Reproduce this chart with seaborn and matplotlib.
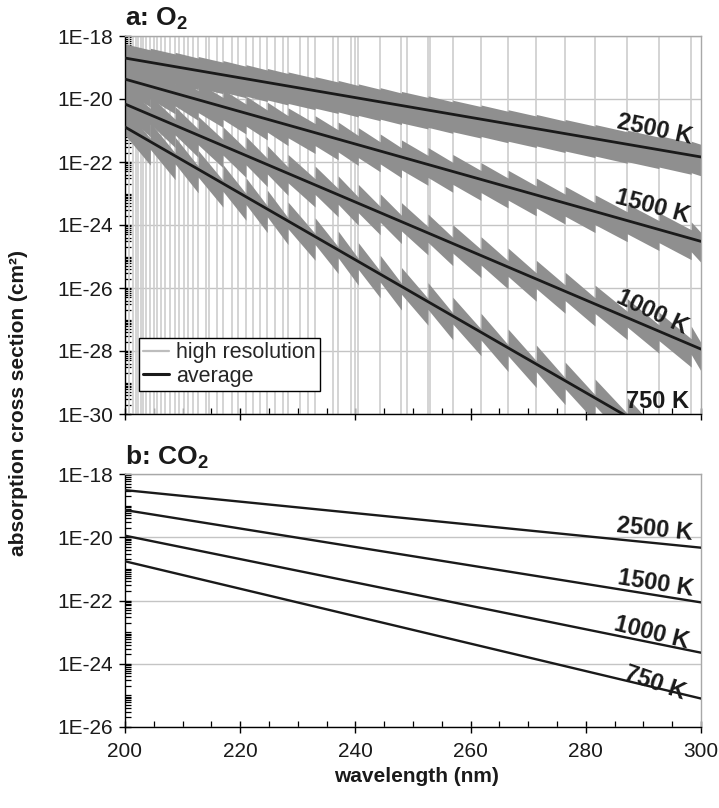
import numpy as np
import pandas as pd
import matplotlib
matplotlib.use("Agg")
import matplotlib.pyplot as plt
import seaborn as sns
from matplotlib.ticker import FixedLocator, LogLocator, MultipleLocator, FuncFormatter, NullFormatter
from matplotlib.lines import Line2D

# ---------------- data ----------------
temps = ["2500 K", "1500 K", "1000 K", "750 K"]
wl_ends = [200, 300]

# log10 of the averaged cross section at 200 nm and 300 nm, panel a (O2)
o2_avg_2500 = [-18.70, -21.84]
o2_avg_1500 = [-19.37, -24.52]
o2_avg_1000 = [-20.16, -27.94]
o2_avg_750 = [-20.89, -31.43]

# log10 of the CO2 cross section at 200 nm and 300 nm, panel b
co2_2500 = [-18.51, -20.33]
co2_1500 = [-19.14, -22.06]
co2_1000 = [-19.95, -23.65]
co2_750 = [-20.76, -25.10]

# wavelengths of the band heads (gaps in the high-resolution O2 data, drawn full height)
band_heads = [200.7, 201.4, 201.9, 202.3, 202.8, 203.2, 203.7, 204.4, 205.0, 205.6,
              206.3, 206.9, 207.8, 208.7, 209.4, 210.2, 210.9, 211.8, 212.7, 214.1,
              214.6, 215.9, 217.0, 218.5, 219.6, 221.0, 222.2, 223.4, 224.7, 226.0,
              227.4, 228.3, 230.4, 231.8, 233.0, 236.1, 237.0, 239.2, 239.9, 240.5,
              244.3, 248.0, 248.9, 252.6, 253.0, 256.9, 261.8, 266.5, 271.4, 276.4,
              281.6, 287.2, 292.7, 298.3]

# high-resolution O2 spectrum envelope, band by band (log10):
# top = upper edge at start of band, bot = lower edge at end of band
hr_bounds = [200, 204.4, 208.7, 212.7, 217.0, 221.0, 224.7, 228.3, 233.0, 237.0, 240.5, 244.3,
             248.0, 252.6, 256.9, 261.8, 266.5, 271.4, 276.4, 281.6, 287.2, 292.7, 298.3, 300]
hr_top_2500 = [-18.25, -18.39, -18.52, -18.65, -18.78, -18.91, -19.03, -19.14, -19.29, -19.41, -19.52, -19.64,
               -19.76, -19.90, -20.04, -20.19, -20.34, -20.49, -20.65, -20.81, -20.99, -21.16, -21.34]
hr_bot_2500 = [-19.44, -19.57, -19.70, -19.83, -19.96, -20.08, -20.19, -20.34, -20.46, -20.57, -20.69, -20.81,
               -20.95, -21.09, -21.24, -21.39, -21.54, -21.70, -21.86, -22.04, -22.21, -22.39, -22.44]
hr_top_1500 = [-18.82, -19.05, -19.27, -19.48, -19.70, -19.91, -20.10, -20.28, -20.53, -20.73, -20.91, -21.11,
               -21.30, -21.54, -21.76, -22.02, -22.26, -22.51, -22.77, -23.04, -23.33, -23.61, -23.90]
hr_bot_1500 = [-20.25, -20.47, -20.68, -20.90, -21.11, -21.30, -21.48, -21.73, -21.93, -22.11, -22.31, -22.50,
               -22.74, -22.96, -23.22, -23.46, -23.71, -23.97, -24.24, -24.53, -24.81, -25.10, -25.19]
hr_top_1000 = [-19.56, -19.90, -20.24, -20.55, -20.88, -21.19, -21.48, -21.76, -22.13, -22.44, -22.71, -23.01,
               -23.29, -23.65, -23.99, -24.37, -24.73, -25.12, -25.50, -25.91, -26.34, -26.77, -27.21]
hr_bot_1000 = [-21.20, -21.54, -21.85, -22.18, -22.49, -22.78, -23.06, -23.43, -23.74, -24.01, -24.31, -24.59,
               -24.95, -25.29, -25.67, -26.03, -26.42, -26.80, -27.21, -27.64, -28.07, -28.51, -28.64]
hr_top_750 = [-20.29, -20.75, -21.21, -21.63, -22.08, -22.50, -22.89, -23.27, -23.77, -24.19, -24.56, -24.96,
              -25.35, -25.83, -26.29, -26.80, -27.30, -27.81, -28.35, -28.89, -29.48, -30.06, -30.65]
hr_bot_750 = [-22.10, -22.56, -22.98, -23.43, -23.85, -24.24, -24.62, -25.12, -25.54, -25.91, -26.31, -26.70,
              -27.18, -27.64, -28.15, -28.65, -29.16, -29.70, -30.24, -30.83, -31.41, -32.00, -32.18]
hr_thick = [1.00, 0.95, 0.90, 0.85]  # band thickness in decades

o2_yticks_exp = [-30, -28, -26, -24, -22, -20, -18]
co2_yticks_exp = [-26, -24, -22, -20, -18]
xticks = [200, 220, 240, 260, 280, 300]

# ---------------- style ----------------
sns.set_theme(style="white")
plt.rcParams['font.family'] = ['Liberation Sans', 'DejaVu Sans']
plt.rcParams['mathtext.fontset'] = 'custom'
plt.rcParams['mathtext.rm'] = 'Liberation Sans'
plt.rcParams['mathtext.bf'] = 'Liberation Sans:bold'

HR_COLOR = '#8f8f8f'
GAP_COLOR = '#cdcdcd'
GRID_COLOR = '#c4c4c4'
FRAME_COLOR = '#a8a8a8'
INK = '#1a1a1a'

fig = plt.figure(figsize=(7.19, 8.08), dpi=100)
ax_a = fig.add_axes([125/719, 1-414/808, 576/719, 378/808])
ax_b = fig.add_axes([125/719, 1-727/808, 576/719, 253/808])

def long_df(series):
    rows = []
    for t, vals in zip(temps, series):
        for w, v in zip(wl_ends, vals):
            rows.append({"wavelength": w, "sigma": 10.0 ** v, "T": t})
    return pd.DataFrame(rows)

df_o2 = long_df([o2_avg_2500, o2_avg_1500, o2_avg_1000, o2_avg_750])
df_co2 = long_df([co2_2500, co2_1500, co2_1000, co2_750])

# ---- panel a ----
ax = ax_a
ax.set_yscale('log')
ax.vlines(band_heads, 10.0 ** o2_yticks_exp[0], 10.0 ** o2_yticks_exp[-1],
          color=GAP_COLOR, lw=1.2, zorder=1)
tops = [hr_top_2500, hr_top_1500, hr_top_1000, hr_top_750]
bots = [hr_bot_2500, hr_bot_1500, hr_bot_1000, hr_bot_750]
for tp, bt, th in zip(tops, bots, hr_thick):
    xs, up, lo = [], [], []
    for i in range(len(tp)):
        xs += [hr_bounds[i], hr_bounds[i + 1]]
        up += [10.0 ** tp[i], 10.0 ** (bt[i] + th)]
        lo += [10.0 ** (tp[i] - th), 10.0 ** bt[i]]
    ax.fill_between(xs, lo, up, color=HR_COLOR, lw=0, zorder=2)
sns.lineplot(data=df_o2, x="wavelength", y="sigma", hue="T", palette=[INK] * 4,
             estimator=None, legend=False, lw=2.0, ax=ax, zorder=3)

# ---- panel b ----
ax = ax_b
ax.set_yscale('log')
sns.lineplot(data=df_co2, x="wavelength", y="sigma", hue="T", palette=[INK] * 4,
             estimator=None, legend=False, lw=1.7, ax=ax, zorder=3)

def fmt(v, pos):
    return f"1E{int(round(np.log10(v)))}"

for ax, yexp in [(ax_a, o2_yticks_exp), (ax_b, co2_yticks_exp)]:
    ax.set_xlim(wl_ends[0], wl_ends[1])
    ax.set_ylim(10.0 ** yexp[0], 10.0 ** yexp[-1])
    ax.yaxis.set_major_locator(FixedLocator([10.0 ** e for e in yexp]))
    ax.yaxis.set_minor_locator(LogLocator(base=10, subs=np.arange(1, 10), numticks=200))
    ax.yaxis.set_major_formatter(FuncFormatter(fmt))
    ax.yaxis.set_minor_formatter(NullFormatter())
    ax.xaxis.set_major_locator(FixedLocator(xticks))
    ax.xaxis.set_minor_locator(MultipleLocator(5))
    ax.set_axisbelow(True)
    ax.yaxis.grid(True, which='major', color=GRID_COLOR, lw=1)
    ax.xaxis.grid(False)
    ax.tick_params(axis='both', which='major', direction='inout', length=9, width=1,
                   color='black', labelsize=15, labelcolor=INK, left=True, bottom=True)
    ax.tick_params(axis='both', which='minor', direction='in', length=4.5, width=0.9,
                   color='black', left=True, bottom=True)
    ax.tick_params(axis='y', which='major', pad=4)
    ax.tick_params(axis='x', which='major', pad=6)
    ax.spines['left'].set_color('black')
    ax.spines['bottom'].set_color('black')
    ax.spines['top'].set_color(FRAME_COLOR)
    ax.spines['right'].set_color(FRAME_COLOR)
    for s in ax.spines.values():
        s.set_linewidth(1.0)
    ax.set_xlabel('')
    ax.set_ylabel('')

ax_a.tick_params(axis='x', labelbottom=False)

# legend
handles = [Line2D([], [], color='#bdbdbd', lw=1.6), Line2D([], [], color=INK, lw=2.2)]
leg = ax_a.legend(handles, ['high resolution', 'average'], loc='lower left',
                  bbox_to_anchor=(0.024, 0.06), fontsize=15.5, frameon=True, fancybox=False,
                  edgecolor='black', framealpha=1, borderpad=0.2, labelspacing=0.12,
                  handlelength=1.2, handletextpad=0.35, borderaxespad=0)
leg.get_frame().set_linewidth(1.0)
leg.set_zorder(5)

# temperature labels
lab_kw = dict(fontsize=17, fontweight='bold', color=INK, ha='center', va='center')
o2_label_pos = [(292.0, -20.98, -12), (291.5, -23.43, -15), (291.5, -26.76, -25), (292.5, -29.59, 0)]
co2_label_pos = [(292.0, -19.77, -6), (292.2, -21.45, -9), (291.5, -23.03, -14), (292.0, -24.61, -19)]
for t, (x, y, r) in zip(temps, o2_label_pos):
    ax_a.text(x, 10.0 ** y, t, rotation=r, rotation_mode='anchor', zorder=6, **lab_kw)
for t, (x, y, r) in zip(temps, co2_label_pos):
    ax_b.text(x, 10.0 ** y, t, rotation=r, rotation_mode='anchor', zorder=6, **lab_kw)

# titles and axis labels
fig.text(125/719, 1-19/808, r"a: O$_\mathbf{2}$", fontsize=19, fontweight='bold',
         ha='left', va='center', color=INK)
fig.text(125/719, 1-457/808, r"b: CO$_\mathbf{2}$", fontsize=19, fontweight='bold',
         ha='left', va='center', color=INK)
fig.text(19/719, 1-403/808, "absorption cross section (cm²)", rotation=90, fontsize=15,
         fontweight='bold', ha='center', va='center', color=INK)
fig.text(416/719, 1-776/808, "wavelength (nm)", fontsize=15, fontweight='bold',
         ha='center', va='center', color=INK)

fig.savefig("out.png", dpi=100)
